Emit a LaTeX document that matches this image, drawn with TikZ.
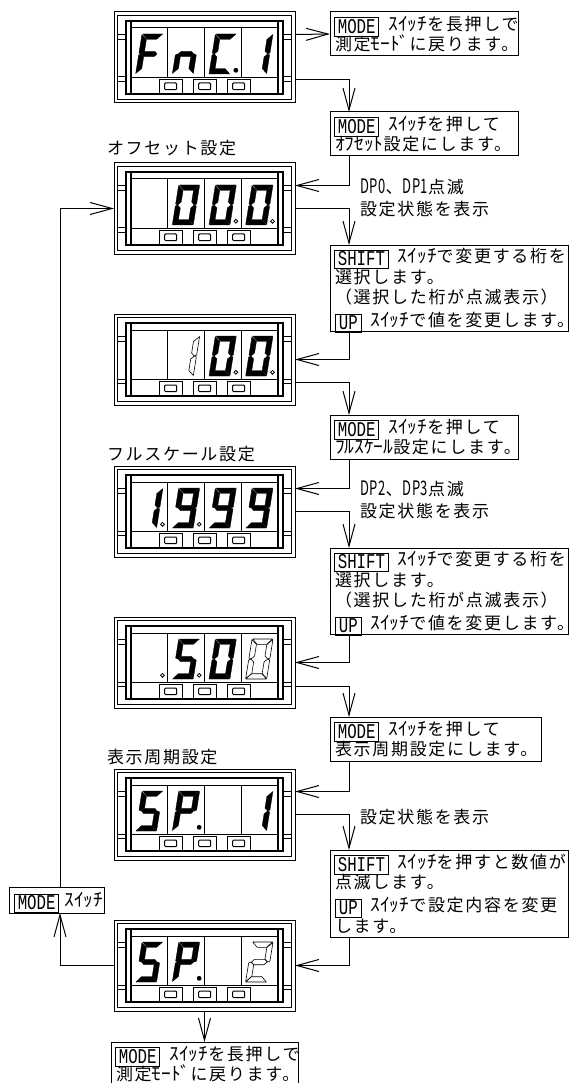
\documentclass[tikz,border=0pt]{standalone}
\usepackage{fontspec}
\usetikzlibrary{arrows.meta}
\setmainfont{Noto Sans CJK JP}
\newfontfamily\jpf[LetterSpace=10]{Noto Sans CJK JP}
\newfontfamily\hkf[FakeStretch=1.05]{Noto Sans CJK JP}
\newfontfamily\ltf[FakeStretch=0.75]{Liberation Mono}
\newfontfamily\dplabf[FakeStretch=0.65,LetterSpace=3]{Noto Sans CJK JP}
\newcommand\hkn[1]{{\hkf\fontsize{18.5}{20.6}\selectfont #1}}
\newcommand\latn[1]{{\ltf\fontsize{21}{20.6}\selectfont #1}}
\newcommand\dpn[1]{{\dplabf\fontsize{20}{20.6}\selectfont #1}}
\newcommand\boxfont{\fontsize{17}{20.6}\selectfont\setlength{\lineskiplimit}{-100pt}\jpf}
\newcommand\kbd[2][0pt]{\kern#1\raisebox{0pt}[0pt][0pt]{\setlength\fboxsep{0.8pt}\setlength\fboxrule{1pt}\raisebox{-2.9pt}{\fbox{\kern2pt\rule[-2pt]{0pt}{15pt}\latn{#2}\kern2pt}}}\kern9pt}
\newcommand\lastdot{\makebox[12pt][l]{。}}
\tikzset{
  x=1pt,y=-1pt,
  panelbox/.style={draw,line width=1pt,minimum width=181pt,minimum height=91pt,inner sep=0pt,outer sep=0pt,anchor=north west},
  pl/.style={line width=1pt},
  pk/.style={line width=1.8pt},
  btn/.style={draw,fill=white,line width=1pt},
  segf/.style={fill=black,draw=black,line width=.3pt,line join=round},
  sego/.style={fill=white,draw=black,line width=.6pt,line join=round},
  sega/.style={insert path={(0.8,40)--(20.7,40)--(15.5,34.7)--(6,34.7)--cycle}},
  segb/.style={insert path={(21,39.5)--(21,21)--(18.8,20)--(15.7,23)--(15.7,34.5)--cycle}},
  segc/.style={insert path={(21,19)--(21,0.5)--(15.7,5.5)--(15.7,17)--(18.8,20)--cycle}},
  segd/.style={insert path={(0.3,0)--(20.7,0)--(15.5,5.3)--(5,5.3)--cycle}},
  sege/.style={insert path={(0,0.5)--(0,19)--(2.2,20)--(5.3,17)--(5.3,5.5)--cycle}},
  segf0/.style={insert path={(0,21)--(0,39.5)--(5.3,34.5)--(5.3,23)--(2.2,20)--cycle}},
  segg/.style={insert path={(2.7,20)--(5.4,22.7)--(15.6,22.7)--(18.3,20)--(15.6,17.3)--(5.4,17.3)--cycle}},
  msgbox/.style={draw,fill=white,line width=1pt,inner xsep=5pt,inner ysep=0pt,outer sep=0pt,anchor=north west,align=left,font=\boxfont},
  lab/.style={inner sep=0pt,outer sep=0pt,anchor=west,font=\boxfont},
  conn/.style={draw,line width=1pt,-{Straight Barb[length=22pt,width=12pt,line width=1pt]}}
}
\newcommand\dig[3]{\begin{scope}[shift={({21.6+36.67*#1},62)},x={(1pt,0pt)},y={(0.16pt,1pt)}]
  \foreach \s in {#2}{\path[#3,seg\s];}
\end{scope}}
\newcommand\dpo[1]{\path[draw,fill=white,line width=.8pt] ({17+36.67*#1+31.5},58.3) circle[radius=1.9pt];}
\newcommand\dpf[1]{\path[fill=black] ({17+36.67*#1+31.5},58.3) circle[radius=2.4pt];}
\newcommand\panel[3]{%
  \node[panelbox] (#1) at (114,#2) {};
  \begin{scope}[shift={(114,#2)}]
    \draw[pl] (3.7,3.7) rectangle (177.4,87.3);
    \foreach \yy in {22.7,27.3,65,69.5}{
      \draw[pl] (3.7,\yy) -- (11.7,\yy);
      \draw[pl] (169.3,\yy) -- (177.4,\yy);}
    \draw[pl] (17,16) rectangle (164.3,65.7);
    \foreach \xx in {53.7,90.3,127}{\draw[pl] (\xx,16) -- (\xx,65.7);}
    \draw[pk] (11.7,9.2) rectangle (169.3,82.3);
    \draw[pk] (17,9.2) -- (17,82.3);
    \draw[pk] (164.3,9.2) -- (164.3,82.3);
    \foreach \xx in {45.7,79.7,113.7}{
      \draw[btn] (\xx,67.7) rectangle ++(22.6,14);
      \draw[pl,rounded corners=1pt] ({\xx+5},71) rectangle ++(12,6.7);}
    #3
  \end{scope}}
\begin{document}
\begin{tikzpicture}
\useasboundingbox (0,0) rectangle (569,1083);
\fill[white] (0,0) rectangle (569,1083);

\panel{p1}{12}{\dig{0}{a,e,f0,g}{segf}\dig{1}{e,c,g}{segf}\dig{2}{a,f0,e,d}{segf}\dig{3}{b,c}{segf}\dpf{2}}
\panel{p2}{163}{\dig{1}{a,b,c,d,e,f0}{segf}\dig{2}{a,b,c,d,e,f0}{segf}\dig{3}{a,b,c,d,e,f0}{segf}\dpo{2}\dpo{3}}
\panel{p3}{314}{\dig{1}{b,c}{sego}\dig{2}{a,b,c,d,e,f0}{segf}\dig{3}{a,b,c,d,e,f0}{segf}\dpo{2}\dpo{3}}
\panel{p4}{466}{\dig{0}{b,c}{segf}\dig{1}{a,b,c,d,f0,g}{segf}\dig{2}{a,b,c,d,f0,g}{segf}\dig{3}{a,b,c,d,f0,g}{segf}\dpo{0}\dpo{1}}
\panel{p5}{617}{\dig{1}{a,f0,g,c,d}{segf}\dig{2}{a,b,c,d,e,f0}{segf}\dig{3}{a,b,c,d,e,f0}{sego}\dpo{0}\dpo{1}}
\panel{p6}{769}{\dig{0}{a,f0,g,c,d}{segf}\dig{1}{a,b,e,f0,g}{segf}\dig{3}{b,c}{segf}\dpf{1}}
\panel{p7}{920}{\dig{0}{a,f0,g,c,d}{segf}\dig{1}{a,b,e,f0,g}{segf}\dig{3}{a,b,g,e,d}{sego}\dpf{1}}

\node[msgbox,text width=178pt,minimum height=44pt] (b1) at (330,12) {\kbd[-1pt]{MODE}\hkn{ｽｲｯﾁ}を長押しで\\測定\hkn{ﾓｰﾄﾞ}に戻ります。};
\node[msgbox,text width=178pt,minimum height=44pt] (b2) at (330,112) {\kbd[-1pt]{MODE}\hkn{ｽｲｯﾁ}を押して\\\hkn{ｵﾌｾｯﾄ}設定にします。};
\node[msgbox,text width=228pt,minimum height=86pt] (b3) at (330,245) {\kbd[-1pt]{SHIFT}\hkn{ｽｲｯﾁ}で変更する桁を\\選択します。\\（選択した桁が点滅表示）\\\kbd[2pt]{UP}\hkn{ｽｲｯﾁ}で値を変更します\lastdot};
\node[msgbox,text width=178pt,minimum height=44pt] (b4) at (330,415) {\kbd[-1pt]{MODE}\hkn{ｽｲｯﾁ}を押して\\\hkn{ﾌﾙｽｹｰﾙ}設定にします。};
\node[msgbox,text width=228pt,minimum height=86pt] (b5) at (330,548) {\kbd[-1pt]{SHIFT}\hkn{ｽｲｯﾁ}で変更する桁を\\選択します。\\（選択した桁が点滅表示）\\\kbd[2pt]{UP}\hkn{ｽｲｯﾁ}で値を変更します\lastdot};
\node[msgbox,text width=201pt,minimum height=44pt] (b6) at (330,717) {\kbd[-1pt]{MODE}\hkn{ｽｲｯﾁ}を押して\\表示周期設定にします。};
\node[msgbox,text width=228pt,minimum height=87pt] (b7) at (330,850) {\kbd[-1pt]{SHIFT}\hkn{ｽｲｯﾁ}を押すと数値が\\点滅します。\\\kbd[2pt]{UP}\hkn{ｽｲｯﾁ}で設定内容を変更\\します。};
\node[msgbox,text width=177pt,minimum height=44pt] (b8) at (111,1042) {\kbd[-1pt]{MODE}\hkn{ｽｲｯﾁ}を長押しで\\測定\hkn{ﾓｰﾄﾞ}に戻ります。};
\node[msgbox,inner xsep=3pt,text width=89pt,minimum height=26pt] (mb) at (9,887) {\kbd[2pt]{MODE}\kern-4pt\hkn{ｽｲｯﾁ}};

\node[lab] (l1) at (107,148) {オフセット設定};
\node[lab] (l2) at (107,454) {フルスケール設定};
\node[lab] (l3) at (107,757) {表示周期設定};
\node[lab] (t1) at (360,187) {\dpn{DP0}、\dpn{DP1}点滅};
\node[lab] (t2) at (360,209) {設定状態を表示};
\node[lab] (t3) at (360,489) {\dpn{DP2}、\dpn{DP3}点滅};
\node[lab] (t4) at (360,511) {設定状態を表示};
\node[lab] (t5) at (360,817) {設定状態を表示};

\foreach \b in {b2,b3,b4,b5,b6,b7}{
  \coordinate (\b t) at ([xshift=19pt]\b.north west);
  \coordinate (\b s) at ([xshift=19pt]\b.south west);}
\coordinate (mbt) at ([xshift=3.5pt]mb.north);
\coordinate (mbs) at ([xshift=3.5pt]mb.south);

\draw[conn] ([yshift=23pt]p1.east) -- (b1.west);
\draw[conn] ([yshift=-22.5pt]p1.east) -| (b2t);
\draw[conn] (b2s) |- ([yshift=23pt]p2.east);
\draw[conn] (p2.east) -| (b3t);
\draw[conn] (b3s) |- (p3.east);
\draw[conn] ([yshift=-22.5pt]p3.east) -| (b4t);
\draw[conn] (b4s) |- ([yshift=23pt]p4.east);
\draw[conn] (p4.east) -| (b5t);
\draw[conn] (b5s) |- (p5.east);
\draw[conn] ([yshift=-23.5pt]p5.east) -| (b6t);
\draw[conn] (b6s) |- ([yshift=23pt]p6.east);
\draw[conn] (p6.east) -| (b7t);
\draw[conn] (b7s) |- (p7.east);
\draw[conn] (p7.south) -- (b8.north);
\draw[conn] (p7.west) -| (mbs);
\draw[conn] (mbt) |- (p2.west);
\end{tikzpicture}
\end{document}
